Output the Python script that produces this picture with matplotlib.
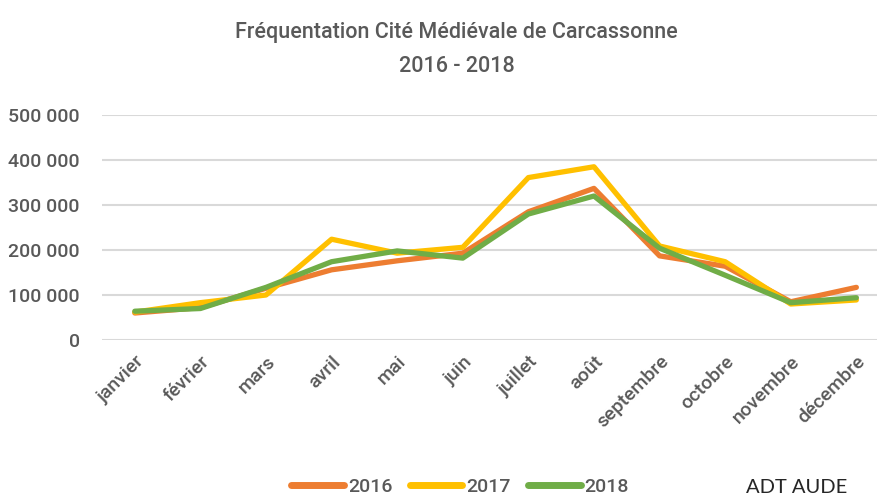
import matplotlib
matplotlib.use('Agg')
import matplotlib.pyplot as plt

# monthly visitor counts
mois = ['janvier', 'février', 'mars', 'avril', 'mai', 'juin', 'juillet',
        'août', 'septembre', 'octobre', 'novembre', 'décembre']
v2016 = [60000, 72000, 115000, 156000, 176000, 193000, 285000,
         337000, 187000, 164000, 85000, 117000]
v2017 = [62000, 83000, 100000, 224000, 193000, 206000, 361000,
         385000, 209000, 174000, 80000, 89000]
v2018 = [64000, 70000, 117000, 174000, 198000, 182000, 280000,
         320000, 204000, 144000, 83000, 94000]
annees = ['2016', '2017', '2018']
couleurs = ['#ED7D31', '#FFC000', '#70AD47']
yticks = [0, 100000, 200000, 300000, 400000, 500000]
ylabels = ['0', '100 000', '200 000', '300 000', '400 000', '500 000']

gris = '#595959'
police = dict(family='Roboto', weight='medium', color=gris)

fig = plt.figure(figsize=(8.78, 4.96), dpi=100)
ax = fig.add_axes([0.1162, 0.3145, 0.8838, 0.4536])

x = list(range(len(mois)))
for serie, nom, c in zip([v2016, v2017, v2018], annees, couleurs):
    ax.plot(x, serie, color=c, linewidth=3.8, label=nom, solid_capstyle='round')

ax.set_ylim(0, 500000)
ax.set_xlim(-0.5, 11.33)
ax.set_yticks(yticks)
ax.set_yticklabels(ylabels, fontsize=14, **police)
ax.set_xticks(x)
ax.set_xticklabels(mois, rotation=45, ha='right', va='top', rotation_mode='anchor',
                   fontsize=14, **police)
ax.tick_params(length=0, pad=9)
ax.tick_params(axis='y', pad=16)
ax.grid(axis='y', color='#d9d9d9', linewidth=1.5)
ax.set_axisbelow(True)
for s in ax.spines.values():
    s.set_visible(False)

fig.text(0.52, 0.935, 'Fréquentation Cité Médiévale de Carcassonne',
         ha='center', va='center', fontsize=15.5, **police)
fig.text(0.52, 0.865, '2016 - 2018', ha='center', va='center', fontsize=15.5, **police)

leg = fig.legend(loc='center', bbox_to_anchor=(0.524, 0.018), ncol=3, frameon=False,
                 handlelength=2.7, columnspacing=0.9, handletextpad=0.2,
                 prop=dict(family='Roboto', weight='medium', size=14))
for t in leg.get_texts():
    t.set_color(gris)
for h in leg.get_lines():
    h.set_linewidth(5)
    h.set_solid_capstyle('round')

fig.text(0.907, 0.018, 'ADT AUDE', ha='center', va='center', fontsize=14.5,
         family='Lato', color='#262626')

fig.savefig('out.png', dpi=100)
